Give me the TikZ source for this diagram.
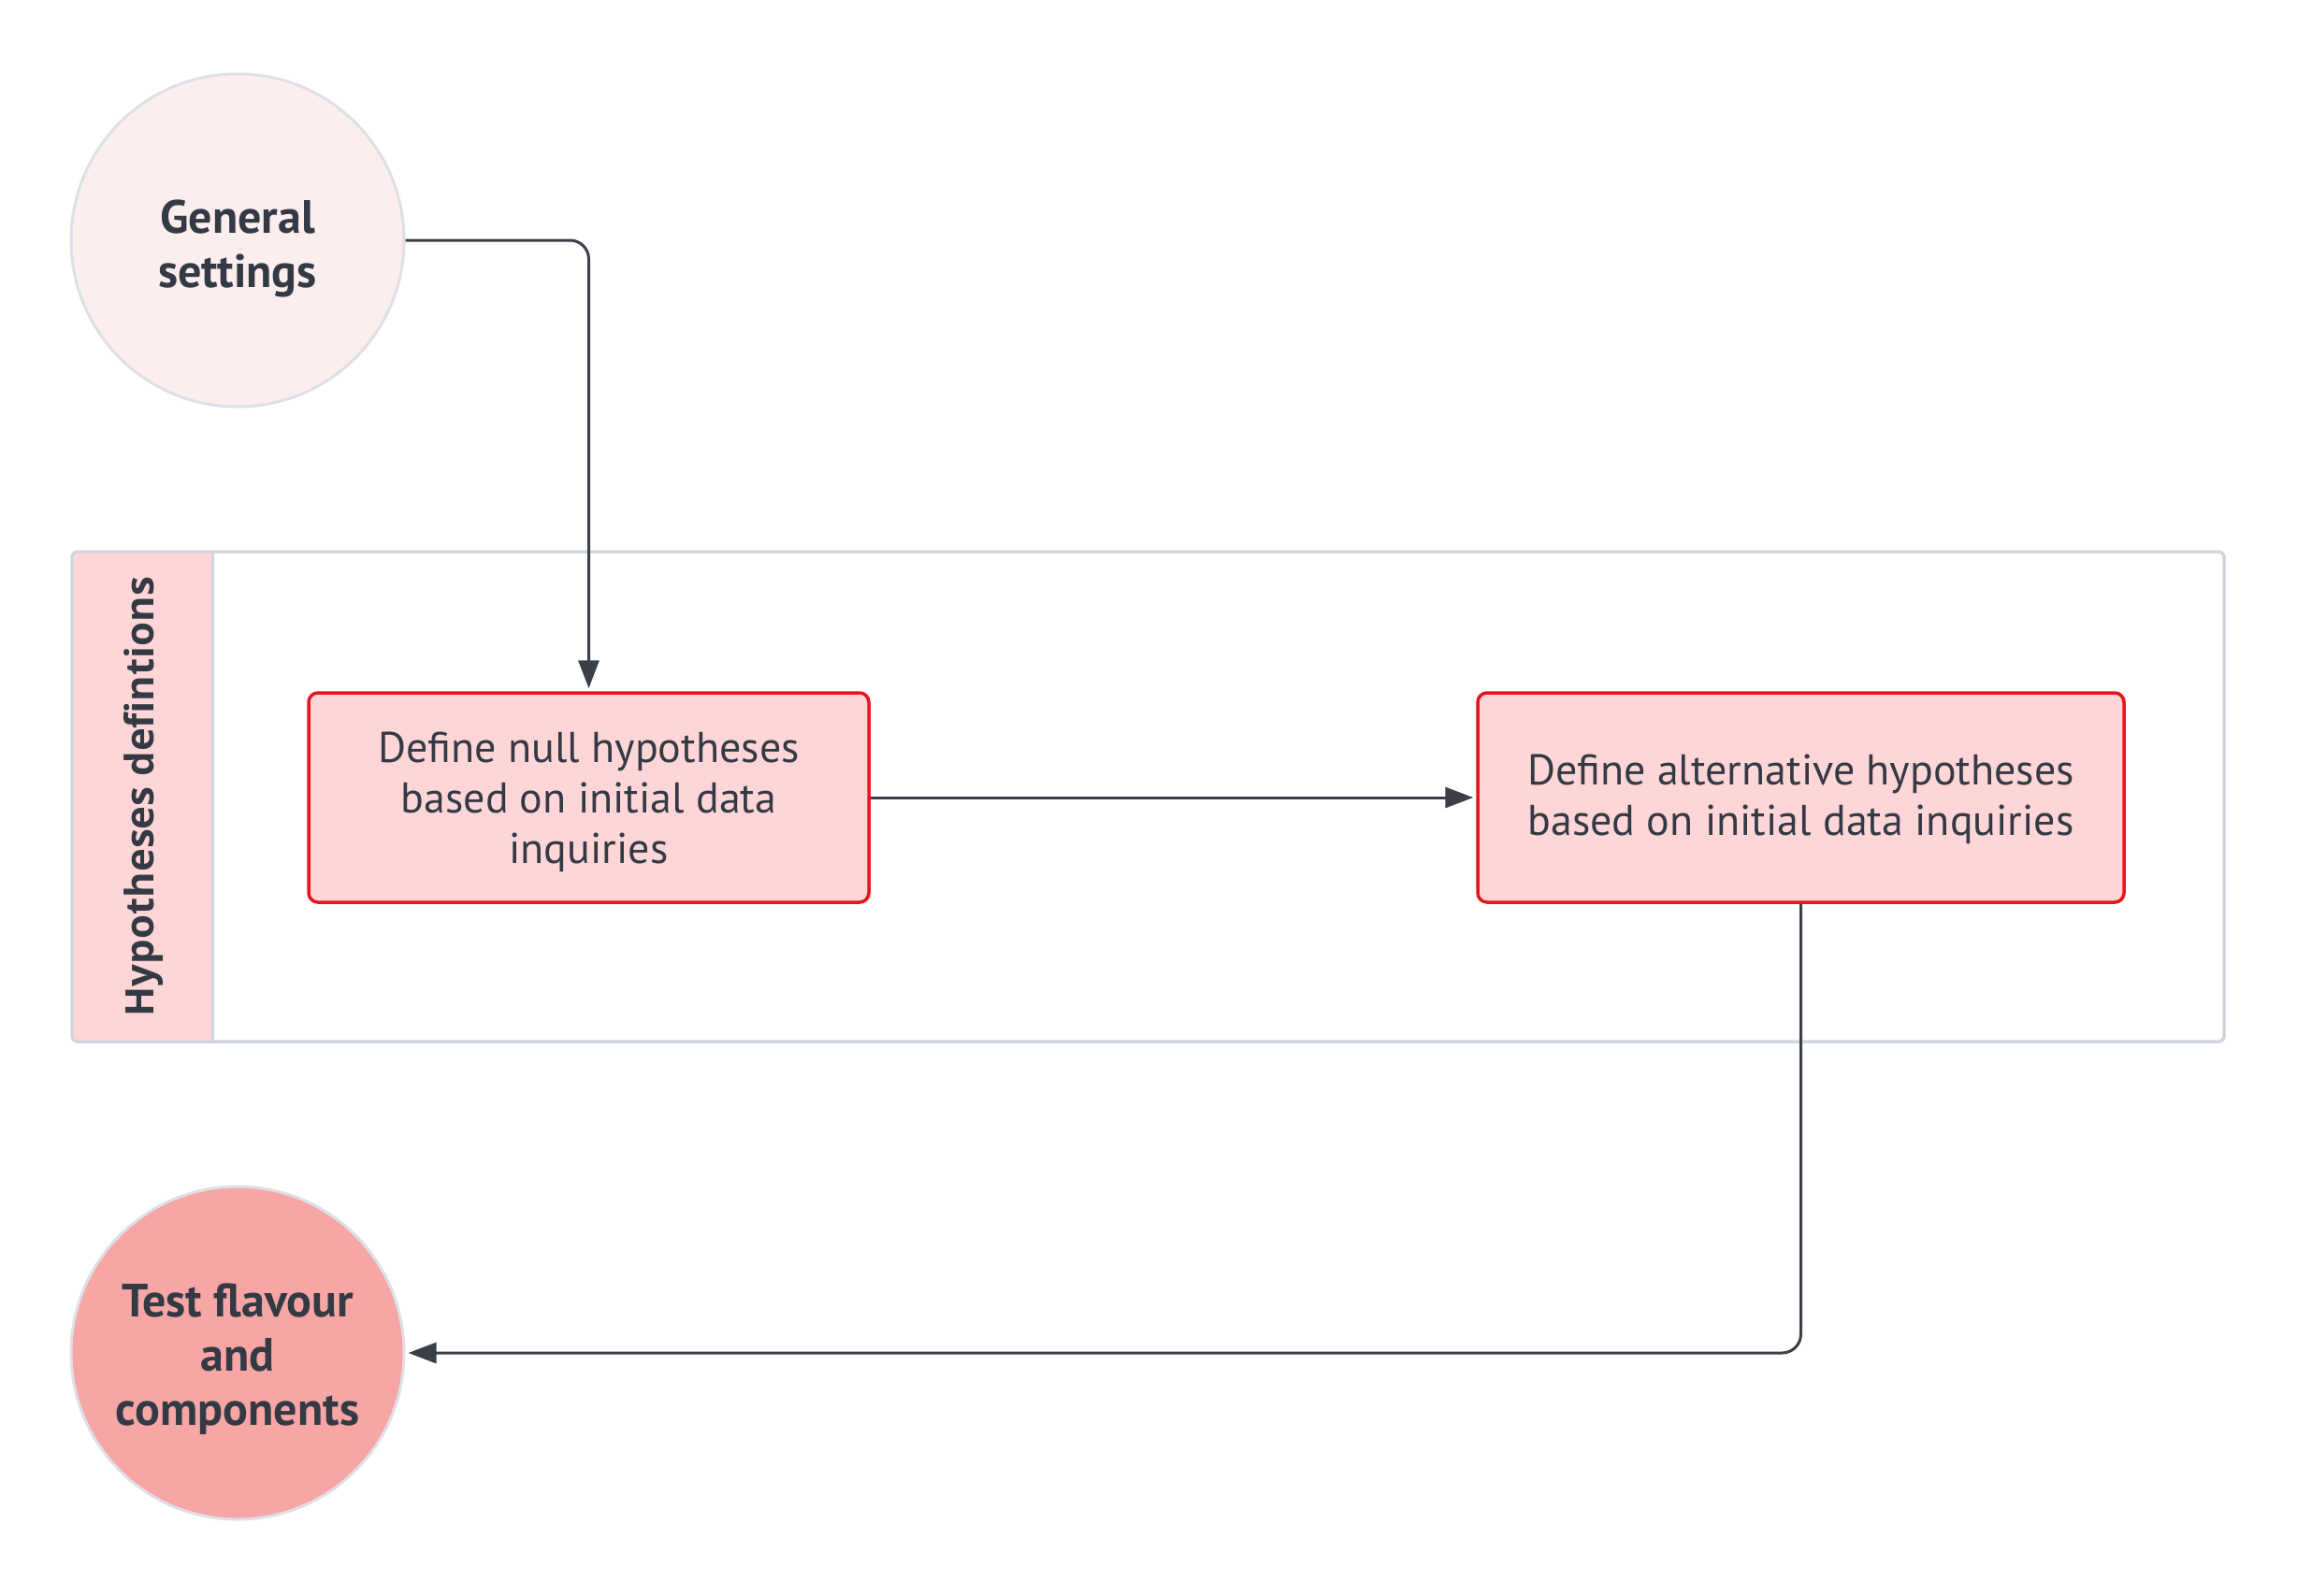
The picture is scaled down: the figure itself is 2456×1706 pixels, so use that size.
\documentclass[tikz,border=0pt]{standalone}
\usepackage{fontspec}
\setmainfont{PT Sans}
\newfontfamily\lanefont{Open Sans}
\usetikzlibrary{arrows.meta}
\definecolor{txt}{HTML}{333A44}
\definecolor{conncol}{HTML}{3B4048}
\definecolor{gsfill}{HTML}{FDEEEE}
\definecolor{tffill}{HTML}{F8A5A5}
\definecolor{circbord}{HTML}{DDE0E6}
\definecolor{boxfill}{HTML}{FFD6D8}
\definecolor{boxbord}{HTML}{E8141C}
\definecolor{lanebord}{HTML}{D0D5DD}
\tikzset{
  circ/.style={circle, draw=circbord, line width=3pt, minimum size=356pt, inner sep=0pt,
    align=center, text=txt, font=\fontsize{50}{58}\selectfont\bfseries},
  stepbox/.style={rectangle, rounded corners=10pt, draw=boxbord, fill=boxfill, line width=3.5pt,
    align=center, text=txt, font=\fontsize{46}{54}\selectfont, inner sep=0pt},
  conn/.style={draw=conncol, line width=3pt, rounded corners=20pt,
    -{Triangle[length=30pt,width=22pt]}, shorten >=3pt},
}
\begin{document}
\begin{tikzpicture}[x=1pt,y=-1pt]
\useasboundingbox (0,0) rectangle (2456,1706);
\fill[white] (0,0) rectangle (2456,1706);
% swimlane
\node[draw=lanebord, line width=3pt, rounded corners=6pt, minimum width=2301pt, minimum height=524pt, inner sep=0pt] (lane) at (1227.5,852) {};
\begin{scope}
\clip[rounded corners=6pt] (77,590) rectangle (2378,1114);
\fill[boxfill] (77,590) rectangle (227,1114);
\end{scope}
\draw[lanebord, line width=3pt] (227,590) -- (227,1114);
\draw[lanebord, line width=3pt, rounded corners=6pt] (77,590) rectangle (2378,1114);
\node[rotate=90, text=txt, font=\fontsize{42}{50}\selectfont\lanefont\bfseries] (lanelabel) at (153,852) {Hypotheses defintions};
% nodes
\node[circ, fill=gsfill] (gs) at (254,257) {\rule{0pt}{54pt}General\\settings};
\node[circ, fill=tffill] (tf) at (254,1447) {\rule{0pt}{48pt}Test flavour\\and\\components};
\node[stepbox, minimum width=599pt, minimum height=224pt] (null) at (629.5,853) {\rule{0pt}{43pt}Define null hypotheses\\based on initial data\\inquiries};
\node[stepbox, minimum width=691pt, minimum height=224pt] (alt) at (1925.5,853) {\rule{0pt}{36pt}Define alternative hypotheses\\based on initial data inquiries};
% connectors
\draw[conn] (gs.east) -| (null.north);
\draw[conn] (null.east) -- (alt.west);
\draw[conn] (alt.south) |- (tf.east);
\end{tikzpicture}
\end{document}
